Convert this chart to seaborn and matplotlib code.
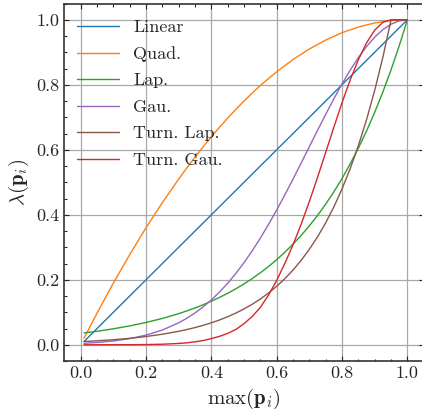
import numpy as np
import pandas as pd
import seaborn as sns
import matplotlib.pyplot as plt

sns.set_style("ticks")
plt.rcParams['font.family'] = 'serif'
plt.rcParams['font.serif'] = ['cmr10', 'DejaVu Serif']
plt.rcParams['mathtext.fontset'] = 'cm'
plt.rcParams['axes.formatter.use_mathtext'] = True
plt.rcParams['axes.unicode_minus'] = False

# values
x_vals = [0.01, 0.05, 0.1, 0.15, 0.2, 0.25, 0.3, 0.325, 0.35, 0.375, 0.4, 0.425,
          0.45, 0.475, 0.5, 0.525, 0.55, 0.575, 0.6, 0.625, 0.65, 0.675, 0.7,
          0.725, 0.75, 0.775, 0.8, 0.825, 0.85, 0.875, 0.9, 0.925, 0.95, 0.975, 1.0]

linear = list(x_vals)
quad = [0.0199, 0.0975, 0.19, 0.2775, 0.36, 0.4375, 0.51, 0.5444, 0.5775, 0.6094,
        0.64, 0.6694, 0.6975, 0.7244, 0.75, 0.7744, 0.7975, 0.8194, 0.84, 0.859,
        0.8775, 0.894, 0.91, 0.924, 0.9375, 0.949, 0.96, 0.969, 0.9775, 0.984,
        0.99, 0.994, 0.9975, 0.999, 1.0]
lap = [0.0363, 0.0415, 0.0491, 0.058, 0.0686, 0.081, 0.0958, 0.1042, 0.1133, 0.1232,
       0.134, 0.1457, 0.1584, 0.1723, 0.1873, 0.2037, 0.2215, 0.2408, 0.2618, 0.2848,
       0.3096, 0.3366, 0.366, 0.398, 0.4328, 0.4706, 0.5117, 0.5564, 0.605, 0.6578,
       0.7153, 0.7778, 0.8458, 0.9196, 1.0]
gau = [0.0046, 0.007, 0.0116, 0.0188, 0.0296, 0.0453, 0.0675, 0.0816, 0.0979, 0.1167,
       0.138, 0.1623, 0.1894, 0.2196, 0.2528, 0.289, 0.3283, 0.3704, 0.4148, 0.4615,
       0.5098, 0.5594, 0.6096, 0.6598, 0.709, 0.757, 0.8025, 0.845, 0.8836, 0.9177,
       0.9465, 0.9695, 0.9863, 0.9966, 1.0]
turn_lap = [0.01, 0.0122, 0.0155, 0.0198, 0.0253, 0.0324, 0.0414, 0.0468, 0.0529,
            0.0598, 0.0675, 0.0763, 0.0863, 0.0975, 0.1103, 0.1246, 0.1409, 0.1592,
            0.18, 0.2034, 0.2299, 0.2599, 0.2938, 0.332, 0.3753, 0.4242, 0.4795,
            0.542, 0.6126, 0.6925, 0.7827, 0.8847, 1.0, 1.0, 1.0]
turn_gau = [0.0, 0.0, 0.0001, 0.0002, 0.0006, 0.0016, 0.004, 0.006, 0.009, 0.013,
            0.019, 0.026, 0.035, 0.047, 0.065, 0.087, 0.115, 0.153, 0.198, 0.2506,
            0.3076, 0.3713, 0.441, 0.515, 0.592, 0.6695, 0.7447, 0.815, 0.877, 0.929,
            0.968, 0.992, 1.0, 1.0, 1.0]

names = ['Linear', 'Quad.', 'Lap.', 'Gau.', 'Turn. Lap.', 'Turn. Gau.']
series = [linear, quad, lap, gau, turn_lap, turn_gau]
colors = ['#1f77b4', '#ff7f0e', '#2ca02c', '#9467bd', '#8c564b', '#d62728']

df = pd.concat([pd.DataFrame({'x': x_vals, 'y': s, 'name': n})
                for n, s in zip(names, series)])

fig = plt.figure(figsize=(4.22, 4.12), dpi=100)
ax = fig.add_axes([64.4 / 422, 51 / 412, 359.3 / 422, 357.5 / 412])

sns.lineplot(data=df, x='x', y='y', hue='name', palette=colors, hue_order=names,
             linewidth=1.0, ax=ax, legend=False)

ax.set_xlim(-0.05, 1.05)
ax.set_ylim(-0.05, 1.05)
ax.set_xticks([0, 0.2, 0.4, 0.6, 0.8, 1.0])
ax.set_yticks([0, 0.2, 0.4, 0.6, 0.8, 1.0])
ax.set_xticks(np.arange(0, 1.051, 0.05), minor=True)
ax.set_yticks(np.arange(-0.05, 1.051, 0.05), minor=True)
ax.xaxis.set_major_formatter(plt.FormatStrFormatter('%.1f'))
ax.yaxis.set_major_formatter(plt.FormatStrFormatter('%.1f'))
ax.tick_params(which='both', direction='in', top=True, right=True, labelsize=13, width=0.8)
ax.tick_params(which='major', length=3.5)
ax.tick_params(which='minor', length=1.8)
ax.grid(True, which='major', color='#a8a8a8', linewidth=0.9)
for sp in ax.spines.values():
    sp.set_linewidth(1.2)
    sp.set_color('#333333')

ax.set_xlabel(r'$\max(\mathbf{p}_i)$', fontsize=15)
ax.set_ylabel(r'$\lambda(\mathbf{p}_i)$', fontsize=15)

handles = [plt.Line2D([], [], color=c, lw=1.0) for c in colors]
ax.legend(handles, names, loc='upper left', frameon=False, fontsize=13,
          handlelength=2.3, labelspacing=0.6, bbox_to_anchor=(0.0, 0.99),
          borderaxespad=0.3)

fig.savefig('out.png', dpi=100)
